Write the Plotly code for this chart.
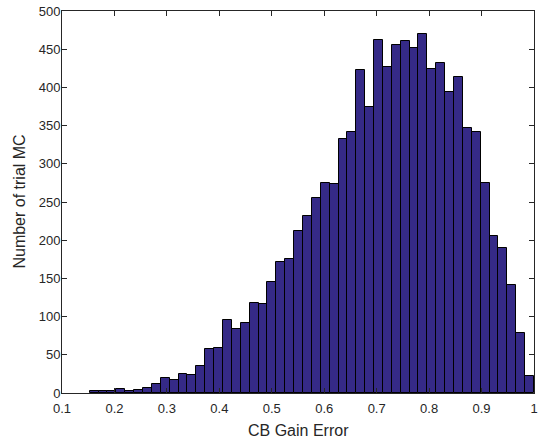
import plotly.graph_objects as go

# histogram of CB gain error, 50 bins
BIN_START = 0.1528
BIN_END = 1.0
COUNTS = [2, 2, 3, 5, 3, 4, 6, 12, 19, 17,
          25, 23, 35, 58, 59, 96, 84, 91, 118, 117,
          145, 172, 175, 212, 232, 255, 275, 274, 332, 342,
          423, 375, 462, 427, 455, 461, 451, 470, 424, 432,
          394, 413, 347, 341, 275, 205, 190, 141, 78, 22]

X_TICKS = [0.1, 0.2, 0.3, 0.4, 0.5, 0.6, 0.7, 0.8, 0.9, 1.0]
X_TICK_TEXT = ["0.1", "0.2", "0.3", "0.4", "0.5", "0.6", "0.7", "0.8", "0.9", "1"]
Y_TICKS = [0, 50, 100, 150, 200, 250, 300, 350, 400, 450, 500]

BAR_COLOR = "#352A87"
AXIS_COLOR = "#262626"
FONT = "Liberation Sans, Arial, sans-serif"

n = len(COUNTS)
width = (BIN_END - BIN_START) / n
centers = [BIN_START + (i + 0.5) * width for i in range(n)]

fig = go.Figure(go.Bar(
    x=centers,
    y=COUNTS,
    width=width,
    marker=dict(color=BAR_COLOR, line=dict(color="black", width=1)),
    showlegend=False,
    hoverinfo="x+y",
))

axis_common = dict(
    showline=True,
    linecolor=AXIS_COLOR,
    linewidth=1,
    mirror="ticks",
    ticks="inside",
    ticklen=5,
    tickcolor=AXIS_COLOR,
    showgrid=False,
    zeroline=False,
    automargin=False,
    tickfont=dict(family=FONT, size=13, color=AXIS_COLOR),
)

fig.update_xaxes(
    range=[0.1, 1.0],
    tickvals=X_TICKS,
    ticktext=X_TICK_TEXT,
    ticklabelstandoff=3,
    **axis_common,
)
fig.update_yaxes(
    range=[0, 500],
    tickvals=Y_TICKS,
    ticklabelstandoff=-2,
    **axis_common,
)

# axis titles placed like the MATLAB labels
title_font = dict(family=FONT, size=16, color=AXIS_COLOR)
fig.add_annotation(text="CB Gain Error", xref="paper", yref="paper",
                   x=0.5, y=-0.099, xanchor="center", yanchor="middle",
                   showarrow=False, font=title_font)
fig.add_annotation(text="Number of trial MC", xref="paper", yref="paper",
                   x=-0.092, y=0.5, xanchor="center", yanchor="middle",
                   textangle=-90, showarrow=False, font=title_font)

fig.update_layout(
    width=550,
    height=443,
    margin=dict(l=62, r=16, t=11, b=50),
    plot_bgcolor="white",
    paper_bgcolor="white",
    bargap=0,
)

# page body has a default 8px margin; drop it so the figure fills the window
fig.write_html("out.html", config={"displayModeBar": False},
               post_script="document.body.style.margin='0';")
